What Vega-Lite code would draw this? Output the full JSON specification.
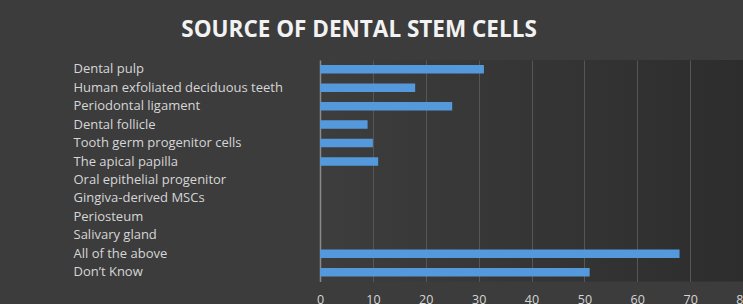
{
  "$schema": "https://vega.github.io/schema/vega-lite/v6.json",
  "autosize": {"type": "none"},
  "padding": {"left": 320, "top": 60, "right": 0, "bottom": 22.5},
  "width": 423,
  "height": 221.5,
  "background": "#3c3c3c",
  "title": {
    "text": "SOURCE OF DENTAL STEM CELLS",
    "font": "Open Sans",
    "fontSize": 22.5,
    "fontWeight": "bold",
    "color": "#f2f2f2",
    "anchor": "middle",
    "frame": "group",
    "dx": -172.5,
    "baseline": "alphabetic",
    "offset": 1
  },
  "data": {
    "values": [
      {"source": "Dental pulp", "count": 31},
      {"source": "Human exfoliated deciduous teeth", "count": 18},
      {"source": "Periodontal ligament", "count": 25},
      {"source": "Dental follicle", "count": 9},
      {"source": "Tooth germ progenitor cells", "count": 10},
      {"source": "The apical papilla", "count": 11},
      {"source": "Oral epithelial progenitor", "count": 0},
      {"source": "Gingiva-derived MSCs", "count": 0},
      {"source": "Periosteum", "count": 0},
      {"source": "Salivary gland", "count": 0},
      {"source": "All of the above", "count": 68},
      {"source": "Don’t Know", "count": 51}
    ]
  },
  "mark": {"type": "bar", "color": "#5599dd"},
  "encoding": {
    "y": {
      "field": "source",
      "type": "nominal",
      "sort": null,
      "title": null,
      "scale": {"paddingInner": 0.54, "paddingOuter": 0.27},
      "axis": {
        "labelAlign": "left",
        "labelPadding": 247,
        "labelFont": "Open Sans",
        "labelFontSize": 13,
        "labelColor": "#d6d6d6",
        "ticks": false,
        "domain": true,
        "domainColor": "#8a8a8a",
        "domainWidth": 1.5,
        "grid": false,
        "labelLimit": 300
      }
    },
    "x": {
      "field": "count",
      "type": "quantitative",
      "title": null,
      "scale": {"domain": [0, 80], "nice": false},
      "axis": {
        "values": [0, 10, 20, 30, 40, 50, 60, 70, 80],
        "domain": false,
        "ticks": false,
        "grid": true,
        "gridColor": "#565656",
        "gridWidth": 1,
        "labelFont": "Open Sans",
        "labelFontSize": 12.5,
        "labelColor": "#d6d6d6",
        "labelPadding": 12,
        "labelFlush": false
      }
    }
  },
  "config": {
    "view": {
      "stroke": null,
      "fill": {
        "gradient": "linear",
        "x1": 0, "y1": 0, "x2": 1, "y2": 0,
        "stops": [
          {"offset": 0, "color": "#3d3d3d"},
          {"offset": 1, "color": "#2d2d2d"}
        ]
      }
    }
  }
}
